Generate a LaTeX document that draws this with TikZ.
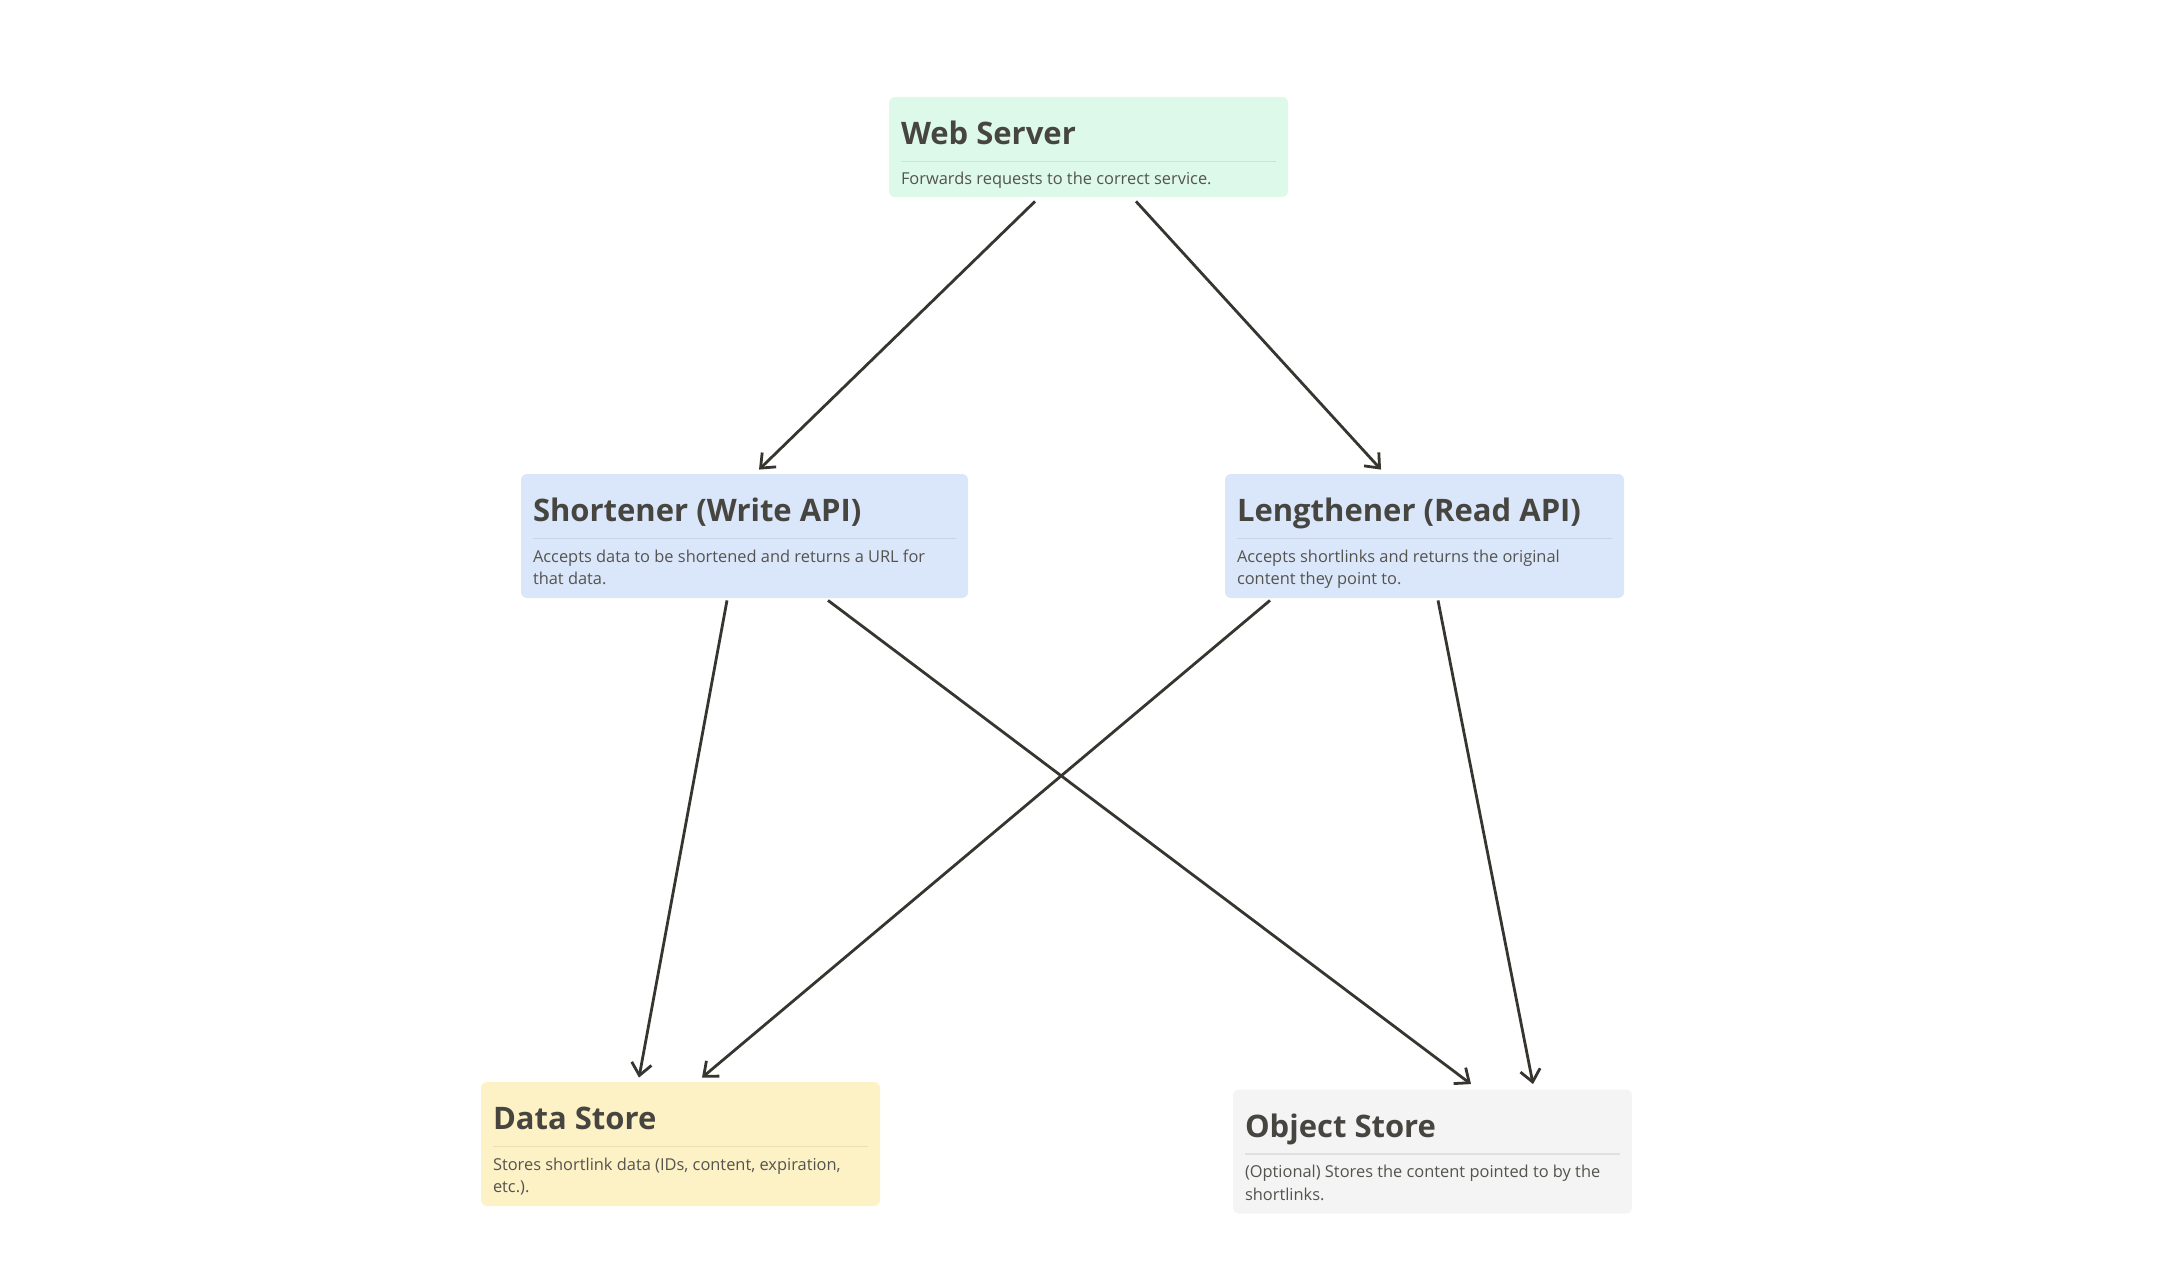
\documentclass[tikz,border=0pt]{standalone}
\usepackage{fontspec}
\setmainfont{Open Sans}
\usetikzlibrary{arrows.meta}
\definecolor{ink}{HTML}{37352F}
\definecolor{descink}{HTML}{55534E}
\definecolor{webfill}{HTML}{DCF9E9}
\definecolor{apifill}{HTML}{DAE7FB}
\definecolor{datafill}{HTML}{FDF1C6}
\definecolor{objfill}{HTML}{F4F4F4}
\begin{document}
\begin{tikzpicture}[x=0.5pt,y=-0.5pt,
    svcbox/.style={rounded corners=3pt, minimum width=199.5pt, minimum height=62pt, inner sep=0pt},
    boxtitle/.style={anchor=base west, inner sep=0pt, text=ink!92, font=\fontsize{15.5}{16}\selectfont\bfseries},
    boxtext/.style={anchor=base west, inner sep=0pt, text=descink, align=left, font=\fontsize{8.2}{11.25}\selectfont},
    divider/.style={draw=black, draw opacity=0.08, line width=0.8pt},
    link/.style={draw=ink, line width=1.4pt, -{Straight Barb[length=6pt,width=10pt,line width=1.4pt]}}]
    \useasboundingbox (0,0) rectangle (2172,1262);
    % boxes
    \node[svcbox, fill=webfill, minimum height=50pt] (web) at (1088.5,147) {};
    \node[svcbox, fill=apifill, minimum width=223.5pt] (short) at (744.5,536) {};
    \node[svcbox, fill=apifill] (long) at (1424.5,536) {};
    \node[svcbox, fill=datafill] (data) at (680.5,1144) {};
    \node[svcbox, fill=objfill] (obj) at (1432.5,1151.5) {};
    % texts (base anchor sits on the last line)
    \foreach \n/\t/\d/\b in {web/Web Server/Forwards requests to the correct service./88,
        short/Shortener (Write API)/Accepts data to be shortened and returns a URL for\\that data./111,
        long/Lengthener (Read API)/Accepts shortlinks and returns the original\\content they point to./111,
        data/Data Store/{Stores shortlink data (IDs, content, expiration,\\etc.).}/111,
        obj/Object Store/(Optional) Stores the content pointed to by the\\shortlinks./111} {
        \node[boxtitle] (\n-title) at ([shift={(12,48)}]\n.north west) {\t};
        \draw[divider] ([shift={(12,65)}]\n.north west) -- ([shift={(-12,65)}]\n.north east);
        \node[boxtext] (\n-text) at ([shift={(12,\b)}]\n.north west) {\d};
    }
    % connectors
    \draw[link] ([shift={(-53.5,4)}]web.south) -- ([shift={(14.5,-4)}]short.north);
    \draw[link] ([shift={(47.5,4)}]web.south) -- ([shift={(-43.5,-4)}]long.north);
    \draw[link] ([shift={(-17.5,2)}]short.south) -- ([shift={(-41.5,-4)}]data.north);
    \draw[link] ([shift={(83.5,2)}]short.south) -- ([shift={(38.5,-5)}]obj.north);
    \draw[link] ([shift={(-154.5,2)}]long.south) -- ([shift={(21.5,-4)}]data.north);
    \draw[link] ([shift={(13.5,2)}]long.south) -- ([shift={(100.5,-5)}]obj.north);
\end{tikzpicture}
\end{document}
